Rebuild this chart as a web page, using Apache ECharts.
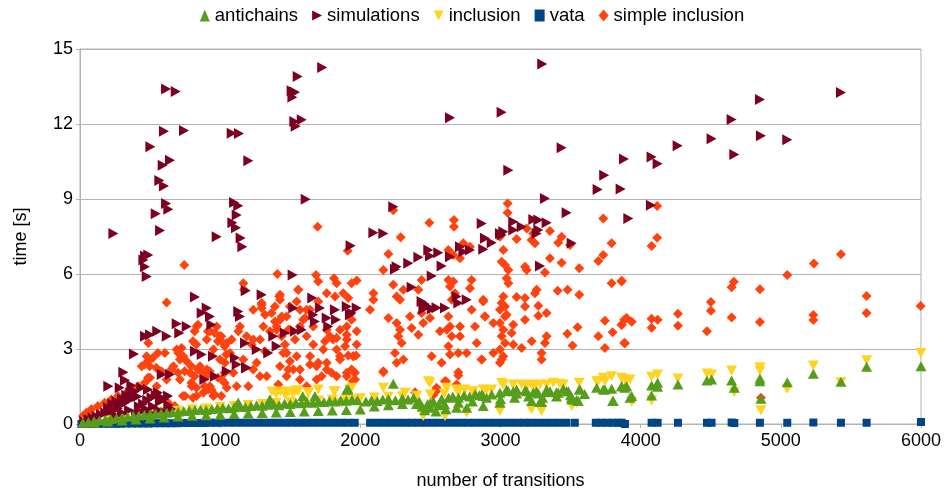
<!DOCTYPE html>
<html>
<head>
<meta charset="utf-8">
<script src="https://cdn.jsdelivr.net/npm/echarts@6/dist/echarts.min.js"></script>
<style>
html, body { margin: 0; padding: 0; background: #fff; }
#main { width: 944px; height: 495px; }
</style>
</head>
<body>
<div id="main"></div>
<script>
// series names, legend order
var seriesNames = ['antichains', 'simulations', 'inclusion', 'vata', 'simple inclusion'];

// [number of transitions, time in s]
var simulations = [
    [1728,14.26],[1553,13.9],[614,13.4],[683,13.3],[1510,13.33],[1534,13.27],[1515,13.07],[1529,12.1],[1582,12.17],[1539,11.91],
    [599,11.71],[742,11.74],[1082,11.63],[1134,11.62],[502,11.09],[590,10.35],[642,10.55],[1201,10.53],[566,9.74],[599,9.52],
    [1610,8.99],[614,8.82],[630,8.59],[540,8.41],[1099,8.86],[1129,8.73],[1118,8.36],[1087,8.05],[1113,7.85],[571,7.74],
    [238,7.62],[975,7.49],[1146,7.44],[1158,7.09],[464,6.72],[487,6.76],[452,6.56],[464,6.29],[476,5.9],[820,5.08],
    [1182,5.33],[1296,5.17],[1517,5.96],[1657,5.04],[1931,7.13],[904,4.64],[868,4.44],[927,4.3],[1129,4.5],[1141,4.3],
    [1522,4.64],[1664,4.37],[1712,4.64],[1760,4.24],[1826,4.17],[1771,3.9],[1903,4.7],[1926,4.37],[1974,4.64],[690,4.01],
    [761,3.9],[708,3.64],[464,3.51],[499,3.57],[551,3.71],[619,3.51],[385,2.8],[309,2.07],[321,1.75],[202,1.51],
    [583,1.98],[642,1.98],[820,2.91],[868,2.78],[887,1.78],[963,1.91],[1047,2.11],[1106,2.65],[1118,2.38],[1177,3.24],
    [1184,2.25],[1261,2.98],[1343,2.84],[1403,3.11],[1379,3.51],[1462,3.64],[1534,3.71],[1582,3.77],[937,3.97],[949,2.71],
    [1189,2.25],[1676,4.1],[1819,4.57],[1938,4.44],
    [30,0.1],[60,0.18],[90,0.25],[120,0.3],[150,0.38],[180,0.45],[210,0.5],[240,0.55],[270,0.62],[230,0.8],
    [260,0.9],[290,0.75],[320,0.85],[350,0.95],[380,1.05],[410,1.1],[300,1.0],[330,1.15],[360,1.25],[390,1.3],
    [420,0.7],[450,0.8],[480,0.95],[510,1.05],[540,1.15],[570,0.9],[600,1.0],[630,0.75],[650,0.6],[430,0.5],
    [470,0.6],[500,0.45],[350,0.55],[300,0.45],[400,0.4],[520,0.7],[560,0.55],[610,0.45],[200,0.65],[250,0.35],
    [283,1.45],[366,1.54],[437,1.45],[485,1.38],[556,1.25],[628,1.12],[580,0.98],
    [2235,8.69],[2093,7.65],[2164,7.62],[2866,8.02],[2889,7.43],[2937,7.25],[2711,7.09],[2782,6.96],[2735,6.89],[2877,6.99],
    [2485,6.96],[2556,6.85],[2497,6.72],[2414,6.67],[2342,6.43],[2259,6.29],[2247,6.19],[2580,6.32],[2640,6.69],[2509,5.92],
    [2366,5.47],[2437,4.9],[2460,4.8],[2480,4.7],[2510,4.6],[2450,4.6],[2544,4.65],[2604,4.64],[2687,5.1],[2699,4.84],
    [2759,4.97],[2996,7.62],
    [3317,9.02],[3472,8.45],[3091,8.09],[3234,8.18],[3270,8.16],[3329,8.05],[3091,7.76],[3151,7.89],[3020,7.69],[3008,7.56],
    [3270,7.76],[3258,7.62],[3508,7.23],[3282,6.32],[3912,8.22],
    [3298,14.4],[3008,12.47],[2640,12.25],[3436,11.05],[3881,10.6],[3056,10.15],[3740,9.95],[3693,9.38],[3857,9.4],
    [5429,13.26],[4851,12.98],[4649,12.18],[4858,11.53],[5046,11.37],[4506,11.41],[4264,11.13],[4668,10.78],[4078,10.68],[4121,10.41],
    [4073,8.75]
];

var simpleInclusion = [
    [1695,7.89],[1910,6.93],[744,6.36],[618,4.86],[1408,6.0],[1165,5.63],[1170,5.37],[1684,5.96],[1700,5.7],[1812,5.83],
    [1831,5.63],[1974,5.74],[1557,5.37],[1422,5.1],[1296,4.84],[1296,4.64],[1236,4.57],[1819,5.1],[1878,5.23],
    [842,3.97],[818,3.71],[806,3.31],[830,3.18],[913,3.71],[961,3.64],[1008,3.51],[984,3.31],[725,3.04],[701,2.84],
    [737,2.71],[761,2.51],[556,2.84],[521,2.65],[485,2.51],[462,2.38],[497,2.31],[544,2.25],[580,2.11],[651,2.18],
    [699,2.05],[747,2.11],[794,2.31],[842,2.18],[818,1.91],[878,2.05],[925,2.11],[984,1.85],[1032,2.05],[794,1.65],
    [830,1.45],[889,1.51],[937,1.38],[961,1.18],[735,1.12],[806,1.05],[485,1.85],[462,1.65],[414,1.51],[378,1.38],
    [342,1.31],[271,1.12],[223,0.98],[176,0.85],[128,0.72],[81,0.59],[45,0.45],[21,0.32],[628,0.85],[676,0.72],
    [1008,1.12],[1032,1.65],[1044,2.78],[1032,3.11],
    [1557,5.37],[1546,4.9],[1427,5.17],[1427,4.97],[1296,4.77],[1938,5.63],[1914,5.04],[1367,4.44],[1391,4.1],[1403,3.77],
    [1439,3.51],[1462,3.18],[1474,2.84],[1498,2.51],[1522,2.18],[1569,4.57],[1605,4.24],[1569,3.9],[1617,3.51],[1664,3.18],
    [1641,2.71],[1688,2.31],[1724,1.91],[1760,3.77],[1807,3.38],[1831,2.98],[1855,2.71],[1760,2.45],[1795,2.05],[1903,3.38],
    [1950,2.71],[1974,3.18],[1938,2.18],[1962,1.78],[975,3.9],[999,3.51],[1047,3.24],[1070,2.84],[1034,2.45],[1094,2.05],
    [1011,1.78],[927,1.51],[904,2.18],[880,1.25],[951,1.12],[1141,3.9],[1189,3.51],[1225,3.18],[1284,3.38],[1320,2.91],
    [1260,2.45],[1332,1.91],[1415,1.58],[1355,3.71],[1831,1.91],[1903,2.05],
    [487,3.24],[476,2.71],[440,2.31],[499,1.85],[606,2.84],[690,2.98],[713,2.58],[785,2.05],[749,1.12],[832,3.9],
    [927,3.71],[1022,3.24],[1082,3.38],[1129,3.71],[1236,3.38],[1308,3.9],[1320,4.37],[1427,4.17],[1474,4.3],[1498,3.77],
    [1617,4.57],[1664,3.9],[1748,3.31],[1831,3.44],[1903,3.57],[1974,3.71],[1165,2.58],[1236,2.18],[1284,1.91],[1118,1.51],
    [1201,1.51],[1427,2.31],[1474,1.91],[1546,2.71],[1569,2.18],[1641,2.38],[1688,1.78],[1760,2.18],[1855,2.58],[1903,1.91],
    [1950,2.71],[915,1.38],[832,1.12],[1047,1.45],
    [1439,4.3],[1403,3.9],[1486,3.77],[1534,3.38],[1450,2.84],[1486,2.18],[1569,1.78],[1617,1.51],[1700,2.45],[1736,2.98],
    [1783,3.51],[1855,3.77],[1903,3.9],[1938,4.17],[1593,4.17],[1641,4.57],[1700,4.9],[1760,5.23],[1498,4.7],[1391,4.7],
    [904,3.38],[951,2.98],[999,2.58],[856,2.31],[904,1.91],[666,2.31],[618,1.78],[547,1.51],[713,1.78],[797,1.51],
    [2235,8.55],[2492,8.05],[2668,8.16],[2668,7.89],[2288,7.47],[2200,6.8],[2164,6.16],[2628,6.96],[2663,6.76],[2711,6.63],
    [2735,7.23],[2782,7.09],[2437,5.76],[2414,5.37],[2307,5.37],[2628,5.76],[2663,5.7],[2640,5.5],[2652,4.97],[2675,5.23],
    [2794,5.76],[2782,5.43],[2093,5.23],[2093,4.97],[2069,4.57],[2235,5.57],[2259,5.1],[2283,4.97],[2200,4.24],[2259,4.04],
    [2283,3.77],[2271,3.51],[2247,2.84],[2259,2.45],[2307,2.58],[2295,3.24],[2366,3.84],[2414,3.57],[2354,4.3],[2437,4.44],
    [2449,4.04],[2497,4.24],[2509,2.71],[2580,2.45],[2568,3.71],[2616,3.77],[2628,4.3],[2640,3.9],[2652,3.51],[2628,3.11],
    [2640,2.78],[2699,2.84],[2759,2.84],[2711,3.51],[2711,3.9],[2794,4.57],[2818,3.9],[2830,3.24],[2866,2.58],[2877,4.97],
    [2889,4.3],[2164,2.11],[2699,1.94],[2604,1.71],[2390,1.27],[2540,1.3],[2520,1.15],[2164,2.07],[1946,1.71],[1962,2.05],
    [1946,2.11],[1969,2.74],[1914,2.74],[1891,3.11],[2611,1.71],[2687,1.58],[2544,1.45],[2533,1.31],[2699,2.07],
    [3051,8.82],[3051,8.45],[3733,8.22],[3187,7.82],[3234,7.62],[3353,7.72],[3115,7.4],[3222,7.36],[3246,7.23],[3436,7.49],
    [3412,7.25],[3496,7.16],[2996,7.49],[3020,6.96],[3793,7.23],[3733,6.76],[3698,6.52],[3353,6.63],[3436,6.45],[3562,6.23],
    [3008,6.49],[3032,6.36],[3056,6.16],[3044,5.83],[3056,5.63],[3175,6.29],[3187,6.16],[3317,6.06],[3793,5.63],[3864,5.7],
    [3408,5.33],[3479,5.37],[3562,5.17],[3258,5.37],[3246,5.23],[3115,5.08],[3175,5.04],[3175,4.7],[3270,4.73],[2877,4.9],
    [2889,4.3],[3329,4.44],[3270,4.33],[3175,4.17],[3020,5.1],[3008,4.84],[2996,4.57],[3032,4.3],[2996,4.04],[3020,3.77],
    [3008,3.51],[3032,3.24],[2996,2.98],[3020,2.71],[2996,2.45],[3032,4.7],[3044,4.37],[3091,3.97],[3079,3.64],[3091,3.18],
    [2949,4.04],[2949,2.84],[2866,2.58],[3008,2.58],[3222,3.31],[3151,3.04],[3293,2.84],[3317,3.24],[3329,3.51],[3293,2.58],
    [3477,3.61],[3514,3.14],[3550,3.87],[3698,3.51],[3745,3.04],[3745,4.13],[3800,3.67],[3864,3.97],[3883,3.24],[3900,4.24],
    [4118,8.72],[4118,7.45],[4078,7.12],[5429,6.79],[5236,6.42],[5046,5.96],[3865,5.73],[4665,5.69],[4649,5.47],[4851,5.39],
    [5612,5.12],[4501,4.88],[4501,4.53],[5998,4.72],[5612,4.44],[4266,4.41],[4266,3.93],[4649,4.26],[5232,4.36],[5232,4.16],
    [4078,4.21],[4121,4.17],[4078,3.85],[3936,4.09],[3883,4.17],[3865,3.96],[4851,4.08],[4473,3.71],[3888,3.23],[4858,1.05]
];

var antichains = [
    [20,0.05],[60,0.08],[100,0.11],[140,0.14],[180,0.17],[220,0.2],[260,0.23],[300,0.26],[340,0.29],[380,0.32],
    [420,0.34],[460,0.37],[500,0.39],[540,0.41],[580,0.43],[620,0.45],[660,0.47],[700,0.49],[740,0.52],[780,0.54],
    [820,0.56],[860,0.58],[900,0.56],[940,0.6],[980,0.62],[1020,0.65],[1060,0.63],[1100,0.67],[1140,0.7],[1180,0.68],
    [1220,0.72],[1260,0.75],[1300,0.73],[1340,0.77],[1380,0.8],[1420,0.75],[1460,0.82],[1500,0.8],[1540,0.85],[1580,0.83],
    [1620,0.87],[1660,0.85],[1700,0.9],[1740,0.88],[1780,0.92],[1820,0.9],[1860,0.95],[1900,0.93],[1940,0.97],[1980,0.95],
    [100,0.05],[200,0.1],[300,0.14],[400,0.18],[500,0.22],[600,0.26],[700,0.3],[800,0.33],[900,0.35],[1000,0.37],
    [1100,0.4],[1200,0.42],[1300,0.44],[1400,0.46],[1500,0.48],[1600,0.5],[1700,0.52],[1800,0.54],[1900,0.56],[2000,0.58],
    [1129,0.86],[1355,0.99],[1589,1.12],[1676,1.12],[1914,1.38],[1903,1.38],
    [2040,0.9],[2080,0.95],[2120,0.92],[2160,0.98],[2200,1.0],[2235,1.61],[2250,0.95],[2300,1.02],[2340,0.98],[2380,1.05],
    [2420,0.9],[2440,0.7],[2460,0.55],[2480,0.8],[2500,0.65],[2520,0.9],[2540,0.5],[2560,0.75],[2580,1.0],[2611,0.59],
    [2630,1.05],[2660,1.1],[2687,0.65],[2700,1.05],[2740,1.15],[2759,0.65],[2780,1.1],[2820,1.2],[2850,1.15],
    [2100,0.7],[2200,0.75],[2300,0.8],[2400,0.8],[2500,0.85],[2600,0.8],[2700,0.85],[2800,0.9],
    [2866,1.18],[2901,1.05],[2937,1.18],[2996,1.25],[3056,1.31],[3091,1.31],[3115,1.22],[3175,1.34],[3234,1.27],[3270,1.22],
    [3329,1.38],[3353,1.31],[3412,1.25],[3448,1.41],[3484,1.31],[3567,1.38],[3686,1.45],[3745,1.38],[3793,1.41],[3864,1.51],
    [3900,1.51],[3222,0.92],[3293,0.88],[3508,1.05],[3543,0.96],[3800,0.92],[2877,0.72],[2877,1.12],[2996,0.85],[3044,1.38],
    [3115,1.38],[3187,1.31],[3258,1.31],[3329,1.27],[3282,0.88],[3400,1.27],[3472,1.31],[3508,0.98],[3555,0.92],[3562,1.38],
    [3733,1.38],[3805,0.92],[3924,1.05],
    [3000,1.0],[3100,1.05],[3200,1.1],[3300,1.05],[3400,1.1],[3500,1.15],[3600,1.2],
    [3865,1.51],[3888,1.45],[3936,1.12],[4078,1.54],[4121,1.65],[4121,1.49],[4078,1.14],[4266,1.58],[4473,1.74],[4506,1.78],
    [4649,1.74],[4668,1.45],[4851,1.82],[4851,1.71],[4858,1.01],[5046,1.67],[5232,2.01],[5429,1.69],[5612,2.29],[6000,2.31]
];

var inclusion = [
    [30,0.08],[100,0.15],[200,0.22],[300,0.3],[400,0.36],[500,0.42],[600,0.48],[700,0.53],[800,0.58],[900,0.62],
    [1000,0.68],[1100,0.72],[1200,0.76],[1300,0.8],[1400,0.84],[1500,0.88],[1600,0.91],[1700,0.94],[1800,0.97],[1900,1.0],
    [2000,1.03],[2100,1.06],[2200,1.09],[2300,1.11],[2400,1.13],[2500,1.18],[2600,1.22],[2700,1.25],[2800,1.3],[2900,1.35],
    [1403,1.25],[1474,1.25],[1557,1.31],[1629,1.25],[1700,1.38],[1819,1.31],[1629,1.27],[1812,1.31],[1938,1.45],
    [1370,1.3],[1400,1.2],[1430,1.3],[1460,1.2],[1490,1.3],[1520,1.2],[1545,1.35],
    [1926,1.38],[2164,1.45],[2485,1.71],[2497,1.65],[2402,1.12],[2319,1.25],[2616,1.45],[2687,1.38],[2747,1.38],[2806,1.31],
    [3020,1.58],[3091,1.58],[3151,1.58],[3222,1.58],[3282,1.58],[3377,1.65],[3448,1.58],[3562,1.65],
    [2449,0.32],[2604,0.32],[2759,0.45],[2996,0.59],[3222,0.59],[3293,0.56],[1866,0.85],[1974,0.98],
    [3733,1.85],[3793,1.91],[3864,1.85],[3924,1.78],[3686,1.71],
    [3008,1.65],[3187,1.51],[3246,1.54],[3329,1.58],[3424,1.61],[3698,1.71],[3745,1.71],[3900,1.75],
    [2877,1.38],[2937,1.38],[2996,0.52],[3293,0.52],[3508,0.72],[3543,0.85],
    [3865,1.82],[3888,1.78],[3936,0.89],[4078,1.89],[4121,1.98],[4078,0.94],[4266,1.82],[4473,2.02],[4506,1.98],[4649,2.14],
    [4668,1.27],[4851,2.27],[4851,2.14],[4858,0.55],[5046,1.41],[5232,2.34],[5429,1.67],[5612,2.55],[6000,2.84]
];

var vata = [
    [10,0.0],[50,0.0],[90,0.0],[130,0.01],[170,0.01],[210,0.01],[250,0.01],[290,0.01],[330,0.02],[370,0.02],
    [410,0.02],[450,0.02],[490,0.02],[530,0.03],[570,0.03],[610,0.03],[650,0.03],[690,0.03],[730,0.04],[770,0.04],
    [810,0.04],[850,0.04],[890,0.04],[930,0.05],[970,0.05],[1010,0.05],[1060,0.05],[1110,0.05],[1160,0.05],[1210,0.05],
    [1260,0.05],[1310,0.05],[1360,0.05],[1410,0.05],[1460,0.05],[1510,0.05],[1560,0.05],[1610,0.05],[1660,0.05],[1710,0.05],
    [1760,0.05],[1810,0.05],[1860,0.05],[1910,0.05],[1960,0.05],
    [2070,0.05],[2120,0.05],[2170,0.05],[2220,0.05],[2270,0.05],[2320,0.05],[2370,0.05],[2420,0.05],[2470,0.05],[2520,0.05],
    [2570,0.05],[2620,0.05],[2670,0.05],[2720,0.05],[2770,0.05],[2820,0.05],[2870,0.05],[2920,0.05],[2970,0.05],[3020,0.05],
    [3070,0.05],[3120,0.05],[3170,0.05],[3220,0.05],[3270,0.05],[3320,0.05],[3370,0.05],[3420,0.05],[3470,0.05],[3530,0.05],
    [3680,0.05],[3720,0.05],[3760,0.05],[3800,0.05],[3840,0.05],
    [3865,0.05],[3888,0.0],[4078,0.05],[4121,0.05],[4266,0.05],[4473,0.05],[4506,0.05],[4649,0.06],[4668,0.04],[4851,0.05],
    [5046,0.05],[5232,0.06],[5429,0.05],[5612,0.05],[6000,0.08]
];

var rightTri = 'path://M0,0L10,5L0,10Z';
var downTri = 'path://M0,0L10,0L5,10Z';

var chartDom = document.getElementById('main');
var myChart = echarts.init(chartDom);
var option;

function plainNumber(v) {
    return String(v);
}

option = {
    animation: false,
    textStyle: { fontFamily: 'Liberation Sans' },
    legend: {
        top: 1,
        left: 'center',
        itemGap: 14,
        itemWidth: 10,
        itemHeight: 12,
        textStyle: { fontSize: 18.5, color: '#000', fontFamily: 'Liberation Sans' },
        data: [
            { name: seriesNames[0], icon: 'triangle' },
            { name: seriesNames[1], icon: rightTri },
            { name: seriesNames[2], icon: downTri },
            { name: seriesNames[3], icon: 'rect' },
            { name: seriesNames[4], icon: 'diamond' }
        ]
    },
    grid: {
        left: 80,
        right: 23,
        top: 49,
        bottom: 70,
        show: true,
        borderColor: '#b3b3b3',
        borderWidth: 1
    },
    xAxis: {
        type: 'value',
        min: 0,
        max: 6000,
        interval: 1000,
        name: 'number of transitions',
        nameLocation: 'middle',
        nameGap: 48,
        nameTextStyle: { fontSize: 18, color: '#000' },
        axisLine: { lineStyle: { color: '#b3b3b3' } },
        axisTick: { show: true, length: 4, lineStyle: { color: '#b3b3b3' } },
        axisLabel: { fontSize: 18, color: '#000', margin: 8, formatter: plainNumber },
        splitLine: { show: false }
    },
    yAxis: {
        type: 'value',
        min: 0,
        max: 15,
        interval: 3,
        name: 'time [s]',
        nameLocation: 'middle',
        nameGap: 50,
        nameTextStyle: { fontSize: 18, color: '#000' },
        axisLine: { show: true, lineStyle: { color: '#b3b3b3' } },
        axisTick: { show: true, length: 4, lineStyle: { color: '#b3b3b3' } },
        axisLabel: { fontSize: 18, color: '#000', margin: 7, formatter: plainNumber },
        splitLine: { lineStyle: { color: '#b3b3b3' } }
    },
    series: [
        {
            name: seriesNames[4],
            type: 'scatter',
            symbol: 'diamond',
            symbolSize: 10,
            itemStyle: { color: '#ff420e', opacity: 1 },
            data: simpleInclusion
        },
        {
            name: seriesNames[3],
            type: 'scatter',
            symbol: 'rect',
            symbolSize: 8,
            itemStyle: { color: '#004586', opacity: 1 },
            data: vata
        },
        {
            name: seriesNames[2],
            type: 'scatter',
            symbol: downTri,
            symbolSize: [11, 10],
            itemStyle: { color: '#ffd320', opacity: 1 },
            data: inclusion
        },
        {
            name: seriesNames[1],
            type: 'scatter',
            symbol: rightTri,
            symbolSize: [10, 11],
            itemStyle: { color: '#7e0021', opacity: 1 },
            data: simulations
        },
        {
            name: seriesNames[0],
            type: 'scatter',
            symbol: 'triangle',
            symbolSize: [11, 10],
            itemStyle: { color: '#579d1c', opacity: 1 },
            data: antichains
        }
    ]
};

option && myChart.setOption(option);
</script>
</body>
</html>
